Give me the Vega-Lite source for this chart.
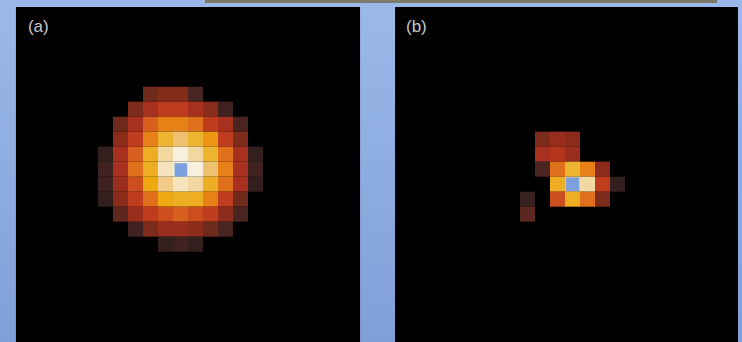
{"$schema":"https://vega.github.io/schema/vega-lite/v6.json","width":742,"height":342,"padding":0,"autosize":{"type":"fit","contains":"padding"},"background":"#8fafe2","config":{"view":{"stroke":null}},
"datasets":{
"cellsA":[
{"col":3,"colEnd":4,"row":0,"rowEnd":1,"v":3},{"col":4,"colEnd":5,"row":0,"rowEnd":1,"v":3.7},{"col":5,"colEnd":6,"row":0,"rowEnd":1,"v":3.7},{"col":6,"colEnd":7,"row":0,"rowEnd":1,"v":2},
{"col":2,"colEnd":3,"row":1,"rowEnd":2,"v":3.5},{"col":3,"colEnd":4,"row":1,"rowEnd":2,"v":5},{"col":4,"colEnd":5,"row":1,"rowEnd":2,"v":6},{"col":5,"colEnd":6,"row":1,"rowEnd":2,"v":6},{"col":6,"colEnd":7,"row":1,"rowEnd":2,"v":5},{"col":7,"colEnd":8,"row":1,"rowEnd":2,"v":4},{"col":8,"colEnd":9,"row":1,"rowEnd":2,"v":1.5},
{"col":1,"colEnd":2,"row":2,"rowEnd":3,"v":3},{"col":2,"colEnd":3,"row":2,"rowEnd":3,"v":5},{"col":3,"colEnd":4,"row":2,"rowEnd":3,"v":7},{"col":4,"colEnd":5,"row":2,"rowEnd":3,"v":8},{"col":5,"colEnd":6,"row":2,"rowEnd":3,"v":8},{"col":6,"colEnd":7,"row":2,"rowEnd":3,"v":7.5},{"col":7,"colEnd":8,"row":2,"rowEnd":3,"v":6},{"col":8,"colEnd":9,"row":2,"rowEnd":3,"v":5},{"col":9,"colEnd":10,"row":2,"rowEnd":3,"v":2},
{"col":1,"colEnd":2,"row":3,"rowEnd":4,"v":4},{"col":2,"colEnd":3,"row":3,"rowEnd":4,"v":6},{"col":3,"colEnd":4,"row":3,"rowEnd":4,"v":8},{"col":4,"colEnd":5,"row":3,"rowEnd":4,"v":10},{"col":5,"colEnd":6,"row":3,"rowEnd":4,"v":11},{"col":6,"colEnd":7,"row":3,"rowEnd":4,"v":10},{"col":7,"colEnd":8,"row":3,"rowEnd":4,"v":8.5},{"col":8,"colEnd":9,"row":3,"rowEnd":4,"v":6},{"col":9,"colEnd":10,"row":3,"rowEnd":4,"v":3.5},
{"col":0,"colEnd":1,"row":4,"rowEnd":5,"v":1},{"col":1,"colEnd":2,"row":4,"rowEnd":5,"v":5},{"col":2,"colEnd":3,"row":4,"rowEnd":5,"v":7},{"col":3,"colEnd":4,"row":4,"rowEnd":5,"v":9.5},{"col":4,"colEnd":5,"row":4,"rowEnd":5,"v":12},{"col":5,"colEnd":6,"row":4,"rowEnd":5,"v":13},{"col":6,"colEnd":7,"row":4,"rowEnd":5,"v":12},{"col":7,"colEnd":8,"row":4,"rowEnd":5,"v":10},{"col":8,"colEnd":9,"row":4,"rowEnd":5,"v":7.5},{"col":9,"colEnd":10,"row":4,"rowEnd":5,"v":5},{"col":10,"colEnd":11,"row":4,"rowEnd":5,"v":1},
{"col":0,"colEnd":1,"row":5,"rowEnd":6,"v":1.5},{"col":1,"colEnd":2,"row":5,"rowEnd":6,"v":5},{"col":2,"colEnd":3,"row":5,"rowEnd":6,"v":7.5},{"col":3,"colEnd":4,"row":5,"rowEnd":6,"v":9.5},{"col":4,"colEnd":5,"row":5,"rowEnd":6,"v":12.5},{"col":5,"colEnd":6,"row":5,"rowEnd":6,"v":13},{"col":6,"colEnd":7,"row":5,"rowEnd":6,"v":13},{"col":7,"colEnd":8,"row":5,"rowEnd":6,"v":11},{"col":8,"colEnd":9,"row":5,"rowEnd":6,"v":8},{"col":9,"colEnd":10,"row":5,"rowEnd":6,"v":5},{"col":10,"colEnd":11,"row":5,"rowEnd":6,"v":1.5},
{"col":0,"colEnd":1,"row":6,"rowEnd":7,"v":1.5},{"col":1,"colEnd":2,"row":6,"rowEnd":7,"v":4.5},{"col":2,"colEnd":3,"row":6,"rowEnd":7,"v":6.5},{"col":3,"colEnd":4,"row":6,"rowEnd":7,"v":9},{"col":4,"colEnd":5,"row":6,"rowEnd":7,"v":11.5},{"col":5,"colEnd":6,"row":6,"rowEnd":7,"v":12.5},{"col":6,"colEnd":7,"row":6,"rowEnd":7,"v":12},{"col":7,"colEnd":8,"row":6,"rowEnd":7,"v":9.5},{"col":8,"colEnd":9,"row":6,"rowEnd":7,"v":7.5},{"col":9,"colEnd":10,"row":6,"rowEnd":7,"v":5},{"col":10,"colEnd":11,"row":6,"rowEnd":7,"v":1},
{"col":0,"colEnd":1,"row":7,"rowEnd":8,"v":1},{"col":1,"colEnd":2,"row":7,"rowEnd":8,"v":4},{"col":2,"colEnd":3,"row":7,"rowEnd":8,"v":6},{"col":3,"colEnd":4,"row":7,"rowEnd":8,"v":7.5},{"col":4,"colEnd":5,"row":7,"rowEnd":8,"v":9},{"col":5,"colEnd":6,"row":7,"rowEnd":8,"v":9.5},{"col":6,"colEnd":7,"row":7,"rowEnd":8,"v":9.5},{"col":7,"colEnd":8,"row":7,"rowEnd":8,"v":8},{"col":8,"colEnd":9,"row":7,"rowEnd":8,"v":6},{"col":9,"colEnd":10,"row":7,"rowEnd":8,"v":3},
{"col":1,"colEnd":2,"row":8,"rowEnd":9,"v":2.5},{"col":2,"colEnd":3,"row":8,"rowEnd":9,"v":4.5},{"col":3,"colEnd":4,"row":8,"rowEnd":9,"v":6},{"col":4,"colEnd":5,"row":8,"rowEnd":9,"v":6.5},{"col":5,"colEnd":6,"row":8,"rowEnd":9,"v":7},{"col":6,"colEnd":7,"row":8,"rowEnd":9,"v":6.5},{"col":7,"colEnd":8,"row":8,"rowEnd":9,"v":6},{"col":8,"colEnd":9,"row":8,"rowEnd":9,"v":4},{"col":9,"colEnd":10,"row":8,"rowEnd":9,"v":2},
{"col":2,"colEnd":3,"row":9,"rowEnd":10,"v":1.5},{"col":3,"colEnd":4,"row":9,"rowEnd":10,"v":3.5},{"col":4,"colEnd":5,"row":9,"rowEnd":10,"v":4.5},{"col":5,"colEnd":6,"row":9,"rowEnd":10,"v":4.5},{"col":6,"colEnd":7,"row":9,"rowEnd":10,"v":4},{"col":7,"colEnd":8,"row":9,"rowEnd":10,"v":3},{"col":8,"colEnd":9,"row":9,"rowEnd":10,"v":2},
{"col":4,"colEnd":5,"row":10,"rowEnd":11,"v":1},{"col":5,"colEnd":6,"row":10,"rowEnd":11,"v":1.5},{"col":6,"colEnd":7,"row":10,"rowEnd":11,"v":1}],
"cellsB":[
{"col":1,"colEnd":2,"row":0,"rowEnd":1,"v":3.5},{"col":2,"colEnd":3,"row":0,"rowEnd":1,"v":4.5},{"col":3,"colEnd":4,"row":0,"rowEnd":1,"v":4},
{"col":1,"colEnd":2,"row":1,"rowEnd":2,"v":5},{"col":2,"colEnd":3,"row":1,"rowEnd":2,"v":5.5},{"col":3,"colEnd":4,"row":1,"rowEnd":2,"v":4.5},
{"col":1,"colEnd":2,"row":2,"rowEnd":3,"v":2},{"col":2,"colEnd":3,"row":2,"rowEnd":3,"v":7.5},{"col":3,"colEnd":4,"row":2,"rowEnd":3,"v":10},{"col":4,"colEnd":5,"row":2,"rowEnd":3,"v":8},{"col":5,"colEnd":6,"row":2,"rowEnd":3,"v":4},
{"col":2,"colEnd":3,"row":3,"rowEnd":4,"v":9.5},{"col":3,"colEnd":4,"row":3,"rowEnd":4,"v":12},{"col":4,"colEnd":5,"row":3,"rowEnd":4,"v":12},{"col":5,"colEnd":6,"row":3,"rowEnd":4,"v":6},{"col":6,"colEnd":7,"row":3,"rowEnd":4,"v":1},
{"col":0,"colEnd":1,"row":4,"rowEnd":5,"v":1.2},{"col":2,"colEnd":3,"row":4,"rowEnd":5,"v":6.5},{"col":3,"colEnd":4,"row":4,"rowEnd":5,"v":9.5},{"col":4,"colEnd":5,"row":4,"rowEnd":5,"v":7.5},{"col":5,"colEnd":6,"row":4,"rowEnd":5,"v":3.5},
{"col":0,"colEnd":1,"row":5,"rowEnd":6,"v":2.5}]
},
"layer":[
{"encoding":{"x":{"field":"col","type":"quantitative","axis":null,"scale":{"domain":[-6.533,42.933],"nice":false,"zero":false}},"y":{"field":"row","type":"quantitative","axis":null,"scale":{"domain":[17.02,-5.78],"nice":false,"zero":false}}},
"layer":[
{"data":{"values":[{"col":-6.533,"colEnd":42.933,"row":-5.78,"rowEnd":17.02}]},"mark":{"type":"rect","color":{"gradient":"linear","x1":0,"y1":0,"x2":0,"y2":1,"stops":[{"offset":0,"color":"#9bb9e8"},{"offset":1,"color":"#7f9fd8"}]}},"encoding":{"x2":{"field":"colEnd"},"y2":{"field":"rowEnd"}}},
{"data":{"values":[{"col":7.13,"colEnd":41.27,"row":-5.78,"rowEnd":-5.58}]},"mark":{"type":"rect","color":"#7d7a6c"},"encoding":{"x2":{"field":"colEnd"},"y2":{"field":"rowEnd"}}},
{"data":{"values":[{"col":-5.47,"colEnd":17.47,"row":-5.31,"rowEnd":17.02}]},"mark":{"type":"rect","color":"#000000"},"encoding":{"x2":{"field":"colEnd"},"y2":{"field":"rowEnd"}}},
{"data":{"name":"cellsA"},"mark":{"type":"rect"},"encoding":{"x2":{"field":"colEnd"},"y2":{"field":"rowEnd"},"color":{"field":"v","type":"quantitative","legend":null,"scale":{"domain":[1,2,3,4,5,6,7,8,9,10,11,12,13],"range":["#33201e","#4a2420","#6e2a1a","#8c2c1a","#a8301e","#c03c1e","#d8601e","#e88018","#eea812","#ecb430","#eec070","#f2d8a0","#f8f0dc"]}}}},
{"data":{"values":[{"col":5.1,"colEnd":5.95,"row":5.1,"rowEnd":6}]},"mark":{"type":"rect","color":"#7ba0dc"},"encoding":{"x2":{"field":"colEnd"},"y2":{"field":"rowEnd"}}},
{"data":{"values":[{"col":-4.67,"row":-3.65,"label":"(a)"}]},"mark":{"type":"text","align":"left","baseline":"alphabetic","font":"Liberation Sans","fontSize":17,"color":"#c8c8c8"},"encoding":{"text":{"field":"label"}}}
]},
{"encoding":{"x":{"field":"col","type":"quantitative","axis":null,"scale":{"domain":[-34.667,14.8],"nice":false,"zero":false}},"y":{"field":"row","type":"quantitative","axis":null,"scale":{"domain":[14.02,-8.78],"nice":false,"zero":false}}},
"layer":[
{"data":{"values":[{"col":-8.33,"colEnd":14.53,"row":-8.31,"rowEnd":14.02}]},"mark":{"type":"rect","color":"#000000"},"encoding":{"x2":{"field":"colEnd"},"y2":{"field":"rowEnd"}}},
{"data":{"name":"cellsB"},"mark":{"type":"rect"},"encoding":{"x2":{"field":"colEnd"},"y2":{"field":"rowEnd"},"color":{"field":"v","type":"quantitative","legend":null}}},
{"data":{"values":[{"col":3.05,"colEnd":3.95,"row":3.05,"rowEnd":3.95}]},"mark":{"type":"rect","color":"#7ba0dc"},"encoding":{"x2":{"field":"colEnd"},"y2":{"field":"rowEnd"}}},
{"data":{"values":[{"col":-7.6,"row":-6.65,"label":"(b)"}]},"mark":{"type":"text","align":"left","baseline":"alphabetic","font":"Liberation Sans","fontSize":17,"color":"#c8c8c8"},"encoding":{"text":{"field":"label"}}}
]}
],
"resolve":{"scale":{"x":"independent","y":"independent"}}}
